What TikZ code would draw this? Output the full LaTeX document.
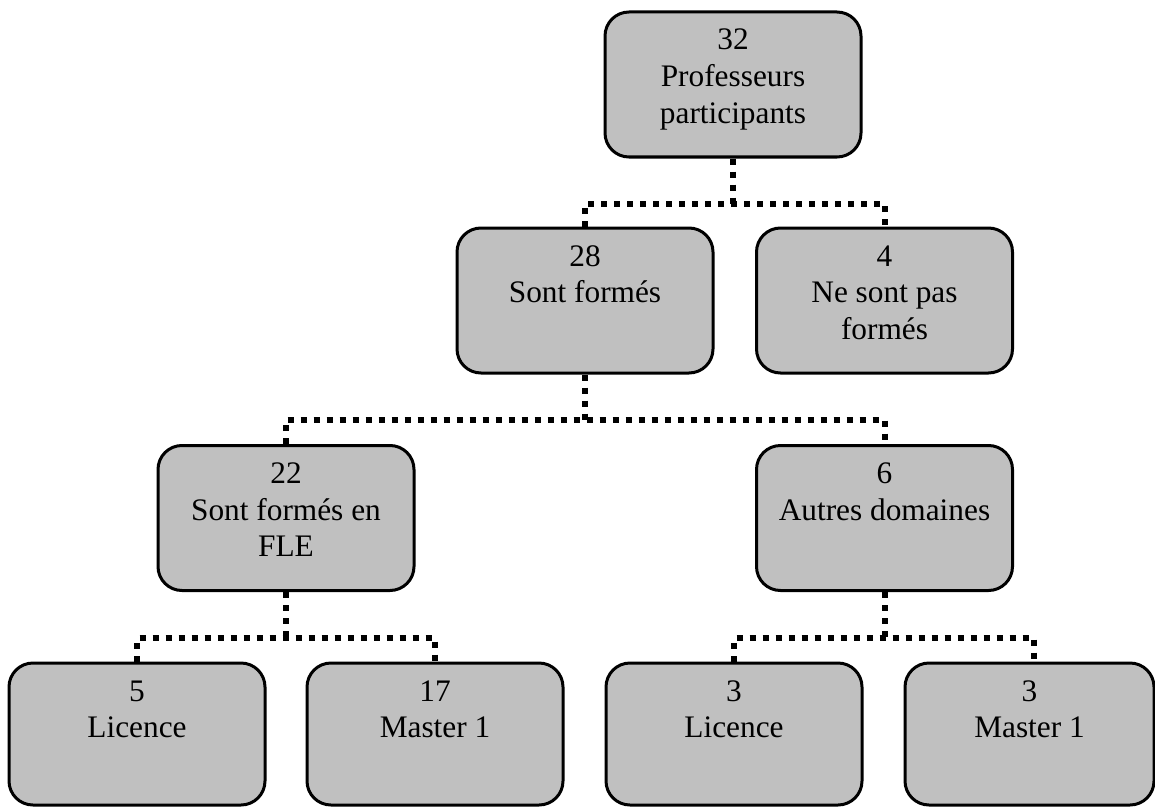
\documentclass[tikz,border=0pt]{standalone}
\usepackage{fontspec}
\setmainfont{Liberation Serif}
\usetikzlibrary{calc}
\definecolor{boxgray}{HTML}{C0C0C0}
\newcommand\boxtext[2][108.75pt]{\parbox[c][#1][t]{180pt}{\centering\fontsize{23.5}{27.4}\selectfont\rule{0pt}{28.5pt}#2}}
\begin{document}
\begin{tikzpicture}[x=0.75pt,y=-0.75pt,
  box/.style={draw, line width=2.25pt, fill=boxgray, rounded corners=18pt, inner sep=0pt, minimum width=192pt},
  conn/.style={line width=4.5pt, dash pattern=on 4.5pt off 5.25pt}]
\useasboundingbox (0,0) rectangle (1155,806);
% level 1
\node[box] (top) at (733,84.5) {\boxtext{32\\Professeurs\\participants}};
% level 2
\node[box] (n28) at (585,300.5) {\boxtext{28\\Sont formés}};
\node[box] (n4) at (884.5,300.5) {\boxtext{4\\Ne sont pas\\formés}};
% level 3
\node[box] (n22) at (286,518) {\boxtext{22\\Sont formés en\\FLE}};
\node[box] (n6) at (884.5,518) {\boxtext{6\\Autres domaines}};
% level 4
\node[box] (n5) at (137,734) {\boxtext[106.5pt]{5\\Licence}};
\node[box] (n17) at (435,734) {\boxtext[106.5pt]{17\\Master 1}};
\node[box] (n3a) at (734,734) {\boxtext[106.5pt]{3\\Licence}};
\node[box, minimum width=186.75pt] (n3b) at (1029.5,734) {\boxtext[106.5pt]{3\\Master 1}};
% connectors
\coordinate (j1) at ($(top.south)+(0,45)$);
\draw[conn] (top.south) -- (j1);
\draw[conn] (n28.north) |- (j1) -| (n4.north);
\coordinate (j2) at ($(n28.south)+(0,45)$);
\draw[conn] (n28.south) -- (j2);
\draw[conn] (n22.north) |- (j2) -| (n6.north);
\coordinate (j3) at ($(n22.south)+(0,46)$);
\draw[conn] (n22.south) -- (j3);
\draw[conn] (n5.north) |- (j3) -| (n17.north);
\coordinate (j4) at ($(n6.south)+(0,46)$);
\coordinate (n3bt) at ($(n3b.north)+(4.5,0)$);
\draw[conn] (n6.south) -- (j4);
\draw[conn] (n3a.north) |- (j4) -| (n3bt);
\end{tikzpicture}
\end{document}
